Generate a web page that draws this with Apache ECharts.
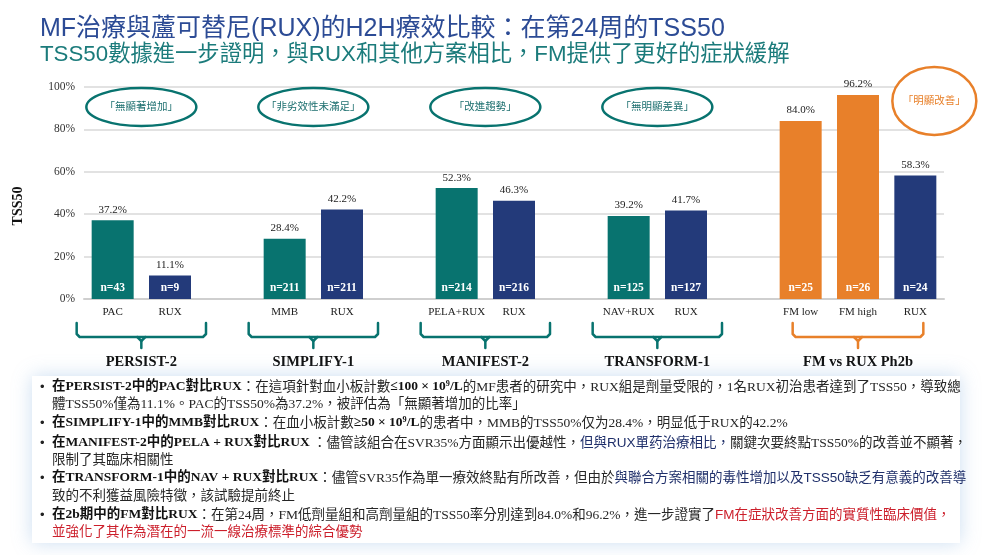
<!DOCTYPE html>
<html>
<head>
<meta charset="utf-8">
<style>
  html, body { margin: 0; padding: 0; background: #fff; }
  #main { width: 987px; height: 555px; }
</style>
<script src="https://cdn.jsdelivr.net/npm/echarts@6/dist/echarts.min.js"></script>
</head>
<body>
<div id="main"></div>
<script>
// data
var arms = ['PAC', 'RUX', '', 'MMB', 'RUX', '', 'PELA+RUX', 'RUX', '', 'NAV+RUX', 'RUX', '', 'FM low', 'FM high', 'RUX'];
var tss50 = [37.2, 11.1, null, 28.4, 42.2, null, 52.3, 46.3, null, 39.2, 41.7, null, 84.0, 96.2, 58.3];
var sampleN = [43, 9, null, 211, 211, null, 214, 216, null, 125, 127, null, 25, 26, 24];
var trials = ['PERSIST-2', 'SIMPLIFY-1', 'MANIFEST-2', 'TRANSFORM-1', 'FM vs RUX Ph2b'];
var trialArms = [[0, 1], [3, 4], [6, 7], [9, 10], [12, 14]];
var verdicts = ['「無顯著增加」', '「非劣效性未滿足」', '「改進趨勢」', '「無明顯差異」', '「明顯改善」'];

var TEAL = '#08736f', NAVY = '#233a7a', ORANGE = '#e8802a';
var SERIF = "'Liberation Serif','Noto Sans CJK TC',serif";
var SANS = "'Liberation Sans','Noto Sans CJK TC',sans-serif";

function armColor(name) {
  if (name.indexOf('FM') === 0) return ORANGE;
  if (name === 'RUX') return NAVY;
  return TEAL;
}

var chart = echarts.init(document.getElementById('main'));

chart.setOption({
  animation: false,
  grid: { left: 84, right: 43, top: 87, bottom: 256 },
  xAxis: {
    type: 'category',
    data: arms,
    axisTick: { show: false },
    axisLine: { lineStyle: { color: '#cfcfcf', width: 2 } },
    axisLabel: { interval: 0, margin: 8, color: '#222', fontFamily: SERIF, fontSize: 11 }
  },
  yAxis: {
    type: 'value',
    min: 0,
    max: 100,
    interval: 20,
    axisLine: { show: false },
    axisTick: { show: false },
    axisLabel: { formatter: '{value}%', margin: 9, color: '#333', fontFamily: SERIF, fontSize: 11.5 },
    splitLine: { lineStyle: { color: '#d9d9d9', width: 1.5 } }
  },
  series: [
    {
      type: 'bar',
      data: tss50,
      barWidth: 42,
      barGap: '-100%',
      itemStyle: {
        color: function (p) { return armColor(arms[p.dataIndex]); }
      },
      label: {
        show: true,
        position: 'top',
        distance: 5,
        color: '#222',
        fontFamily: SERIF,
        fontSize: 11,
        formatter: function (p) { return p.value == null ? '' : p.value.toFixed(1) + '%'; }
      }
    },
    {
      // 样本量标签
      type: 'bar',
      data: tss50,
      barWidth: 42,
      barGap: '-100%',
      silent: true,
      itemStyle: { color: 'rgba(0,0,0,0)' },
      label: {
        show: true,
        position: 'insideBottom',
        distance: 5,
        color: '#fff',
        fontWeight: 'bold',
        fontFamily: SERIF,
        fontSize: 11.5,
        formatter: function (p) { return sampleN[p.dataIndex] == null ? '' : 'n=' + sampleN[p.dataIndex]; }
      }
    }
  ]
});

function px(i) { return chart.convertToPixel({ xAxisIndex: 0 }, i); }
var y0 = chart.convertToPixel({ yAxisIndex: 0 }, 0);

var g = [];

// titles
g.push({ type: 'text', x: 40, y: 29, style: { text: 'MF治療與蘆可替尼(RUX)的H2H療效比較：在第24周的TSS50', font: '25px ' + SANS, fill: '#2c4b95', verticalAlign: 'middle' } });
g.push({ type: 'text', x: 40, y: 55, style: { text: 'TSS50數據進一步證明，與RUX和其他方案相比，FM提供了更好的症狀緩解', font: '22.3px ' + SANS, fill: '#1b7b7b', verticalAlign: 'middle' } });

// y axis name
g.push({ type: 'text', x: 18, y: 206, rotation: Math.PI / 2, style: { text: 'TSS50', font: 'bold 14px ' + SERIF, fill: '#111', align: 'center', verticalAlign: 'middle' } });

// brackets, group names, verdict ovals
trials.forEach(function (name, k) {
  var a = px(trialArms[k][0]), b = px(trialArms[k][1]);
  var last = k === trials.length - 1;
  var pad = last ? 8 : 36;
  var col = last ? ORANGE : TEAL;
  var x1 = a - pad, x2 = b + pad, cx = (a + b) / 2;
  var top = y0 + 24, bot = y0 + 38, tip = y0 + 49;
  var lineStyle = { fill: null, stroke: col, lineWidth: 2.5, lineJoin: 'round', lineCap: 'round' };
  g.push({ type: 'polyline', shape: { points: [[x1, top], [x1, bot - 3], [x1 + 3, bot], [x2 - 3, bot], [x2, bot - 3], [x2, top]] }, style: lineStyle });
  g.push({ type: 'polyline', shape: { points: [[cx - 4, bot], [cx, bot + 4], [cx, tip]] }, style: lineStyle });
  g.push({ type: 'polyline', shape: { points: [[cx + 4, bot], [cx, bot + 4]] }, style: lineStyle });
  g.push({ type: 'text', x: cx, y: y0 + 63, style: { text: name, font: 'bold 14.5px ' + SERIF, fill: '#111', align: 'center', verticalAlign: 'middle' } });

  var ex = last ? b + 19 : cx, ey = last ? 101 : 107;
  g.push({ type: 'ellipse', shape: { cx: ex, cy: ey, rx: last ? 42 : 55, ry: last ? 34 : 19 }, style: { fill: '#fff', stroke: col, lineWidth: 2.5 } });
  g.push({ type: 'text', x: ex, y: ey, style: { text: verdicts[k], font: '10.5px ' + SANS, fill: last ? ORANGE : '#1c6f6f', align: 'center', verticalAlign: 'middle' } });
});

// notes box
g.push({ type: 'rect', shape: { x: 32, y: 376, width: 928, height: 167 }, style: { fill: '#fff', shadowBlur: 18, shadowColor: 'rgba(110,160,215,0.35)' } });

var notes = [
  [387, true, '{b|在PERSIST-2中的PAC對比RUX}{n|：在這項針對血小板計數}{b|≤100 × 10⁹/L}{n|的MF患者的研究中，RUX組是劑量受限的，1名RUX初治患者達到了TSS50，導致總}'],
  [404, false, '{n|體TSS50%僅為11.1%。PAC的TSS50%為37.2%，被評估為「無顯著增加的比率」}'],
  [423, true, '{b|在SIMPLIFY-1中的MMB對比RUX}{n|：在血小板計數}{b|≥50 × 10⁹/L}{n|的患者中，MMB的TSS50%仅为28.4%，明显低于RUX的42.2%}'],
  [443, true, '{b|在MANIFEST-2中的PELA + RUX對比RUX}{n| ：儘管該組合在SVR35%方面顯示出優越性，}{s|但與RUX單药治療相比，}{n|關鍵次要終點TSS50%的改善並不顯著，}'],
  [460, false, '{n|限制了其臨床相關性}'],
  [478, true, '{b|在TRANSFORM-1中的NAV + RUX對比RUX}{n|：儘管SVR35作為單一療效終點有所改善，但由於}{s|與聯合方案相關的毒性增加以及TSS50缺乏有意義的改善導}'],
  [496, false, '{n|致的不利獲益風險特徵，該試驗提前終止}'],
  [515, true, '{b|在2b期中的FM對比RUX}{n|：在第24周，FM低劑量組和高劑量組的TSS50率分別達到84.0%和96.2%，進一步證實了}{r|FM在症狀改善方面的實質性臨床價值，}'],
  [532, false, '{r|並強化了其作為潛在的一流一線治療標準的綜合優勢}']
];
var rich = {
  b: { fontFamily: SERIF, fontWeight: 'bold', fontSize: 13.5, fill: '#111' },
  n: { fontFamily: SERIF, fontSize: 13.5, fill: '#262626' },
  s: { fontFamily: SANS, fontSize: 13.5, fill: '#1f2f6a' },
  r: { fontFamily: SANS, fontSize: 13.5, fill: '#cc1f2b' }
};
notes.forEach(function (ln) {
  if (ln[1]) g.push({ type: 'text', x: 40, y: ln[0], style: { text: '•', font: '13px ' + SANS, fill: '#222', verticalAlign: 'middle' } });
  g.push({ type: 'text', x: 52, y: ln[0], style: { text: ln[2], rich: rich, verticalAlign: 'middle' } });
});

chart.setOption({ graphic: g });
</script>
</body>
</html>
